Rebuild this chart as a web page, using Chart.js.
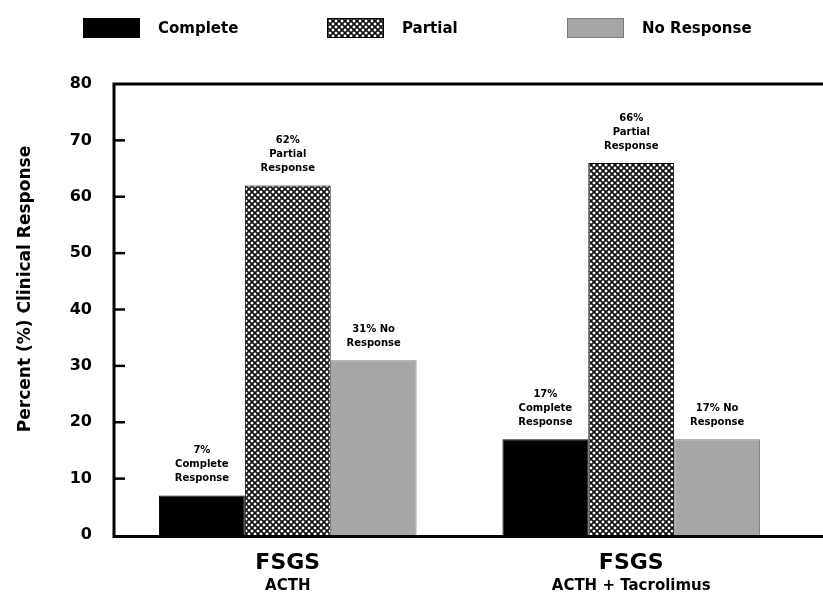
<!DOCTYPE html>
<html>
<head>
<meta charset="utf-8">
<script src="https://cdn.jsdelivr.net/npm/chart.js@4.4.1/dist/chart.umd.min.js"></script>
<style>
  html, body { margin: 0; padding: 0; background: #fff; }
</style>
</head>
<body>
<canvas id="chart" width="823" height="596"></canvas>
<script>
// Data
const groups = ['FSGS', 'FSGS'];
const groupSubLabels = ['ACTH', 'ACTH + Tacrolimus'];
const seriesNames = ['Complete', 'Partial', 'No Response'];
const completeValues = [7, 17];
const partialValues = [62, 66];
const noResponseValues = [31, 17];
const completeNotes = [['7%', 'Complete', 'Response'], ['17%', 'Complete', 'Response']];
const partialNotes = [['62%', 'Partial', 'Response'], ['66%', 'Partial', 'Response']];
const noResponseNotes = [['31% No', 'Response'], ['17% No', 'Response']];
const yTitle = 'Percent (%) Clinical Response';
const yMin = 0, yMax = 80, yStep = 10;

const FONT = "'DejaVu Sans', sans-serif";
const canvas = document.getElementById('chart');
const ctx = canvas.getContext('2d');

// crosshatch fill used for the "Partial" bars
function makeHatch() {
    const tile = document.createElement('canvas');
    tile.width = 6;
    tile.height = 6;
    const g = tile.getContext('2d');
    g.fillStyle = '#ffffff';
    g.fillRect(0, 0, 6, 6);
    g.strokeStyle = '#111111';
    g.lineWidth = 1.7;
    g.beginPath();
    g.moveTo(0, 0); g.lineTo(6, 6);
    g.moveTo(6, 0); g.lineTo(0, 6);
    g.stroke();
    return ctx.createPattern(tile, 'repeat');
}
const hatch = makeHatch();

// axis frame (left, top, bottom) with inward tick marks
const framePlugin = {
    id: 'frame',
    afterDraw(chart) {
        const { ctx, chartArea } = chart;
        const y = chart.scales.y;
        const L = chartArea.left - 2;
        ctx.save();
        ctx.strokeStyle = '#000';
        ctx.lineWidth = 3;
        ctx.beginPath();
        ctx.moveTo(chart.width, chartArea.top);
        ctx.lineTo(L, chartArea.top);
        ctx.lineTo(L, chartArea.bottom + 1.5);
        ctx.lineTo(chart.width, chartArea.bottom + 1.5);
        ctx.stroke();
        ctx.lineWidth = 2.5;
        y.ticks.forEach(t => {
            if (t.value === yMin || t.value === yMax) return;
            const py = y.getPixelForValue(t.value);
            ctx.beginPath();
            ctx.moveTo(L, py);
            ctx.lineTo(L + 11, py);
            ctx.stroke();
        });
        // y axis title
        ctx.fillStyle = '#000';
        ctx.font = 'bold 17px ' + FONT;
        ctx.textAlign = 'center';
        ctx.textBaseline = 'middle';
        ctx.translate(26, 289);
        ctx.rotate(-Math.PI / 2);
        ctx.fillText(yTitle, 0, 0);
        ctx.restore();
    }
};

// notes above each bar
const notesPlugin = {
    id: 'notes',
    afterDatasetsDraw(chart) {
        const { ctx } = chart;
        ctx.save();
        ctx.fillStyle = '#000';
        ctx.font = 'bold 10px ' + FONT;
        ctx.textAlign = 'center';
        ctx.textBaseline = 'middle';
        chart.data.datasets.forEach((ds, i) => {
            chart.getDatasetMeta(i).data.forEach((bar, j) => {
                const lines = ds.notes[j];
                lines.forEach((line, k) => {
                    const offset = (lines.length - 1 - k) * 14;
                    ctx.fillText(line, bar.x, bar.y - 17 - offset);
                });
            });
        });
        ctx.restore();
    }
};

// legend across the top
const legendPlugin = {
    id: 'topLegend',
    afterDraw(chart) {
        const { ctx } = chart;
        const boxX = [83, 327, 567];
        ctx.save();
        ctx.font = 'bold 15px ' + FONT;
        ctx.textBaseline = 'middle';
        ctx.textAlign = 'left';
        chart.data.datasets.forEach((ds, i) => {
            ctx.fillStyle = ds.backgroundColor;
            ctx.fillRect(boxX[i], 18, 57, 20);
            ctx.strokeStyle = ds.borderColor;
            ctx.lineWidth = 1;
            ctx.strokeRect(boxX[i] + 0.5, 18.5, 56, 19);
            ctx.fillStyle = '#000';
            ctx.fillText(ds.label, boxX[i] + 75, 29);
        });
        ctx.restore();
    }
};

new Chart(ctx, {
    type: 'bar',
    data: {
        labels: groups,
        datasets: [
            {
                label: seriesNames[0],
                data: completeValues,
                notes: completeNotes,
                backgroundColor: '#000000',
                borderColor: '#000000',
                borderWidth: 1
            },
            {
                label: seriesNames[1],
                data: partialValues,
                notes: partialNotes,
                backgroundColor: hatch,
                borderColor: '#000000',
                borderWidth: 1
            },
            {
                label: seriesNames[2],
                data: noResponseValues,
                notes: noResponseNotes,
                backgroundColor: '#a6a6a6',
                borderColor: '#7a7a7a',
                borderWidth: 1
            }
        ]
    },
    options: {
        responsive: false,
        animation: false,
        categoryPercentage: 0.75,
        barPercentage: 1.0,
        layout: { padding: { top: 84, right: 20, left: 0, bottom: 0 } },
        plugins: {
            legend: { display: false },
            tooltip: { enabled: false }
        },
        scales: {
            y: {
                min: yMin,
                max: yMax,
                afterFit(scale) { scale.width = 116; },
                ticks: {
                    stepSize: yStep,
                    color: '#000',
                    padding: 24,
                    font: { family: FONT, size: 16, weight: 'bold' }
                },
                grid: { display: false, drawTicks: false },
                border: { display: false }
            },
            x: {
                weight: 0,
                afterFit(scale) { scale.height = 41; },
                ticks: {
                    color: '#000',
                    padding: 15,
                    maxRotation: 0,
                    font: { family: FONT, size: 22, weight: 'bold' }
                },
                grid: { display: false, drawTicks: false },
                border: { display: false }
            },
            x2: {
                type: 'category',
                position: 'bottom',
                weight: 1,
                labels: groupSubLabels,
                afterFit(scale) { scale.height = 20; },
                ticks: {
                    color: '#000',
                    padding: 1,
                    maxRotation: 0,
                    font: { family: FONT, size: 15, weight: 'bold' }
                },
                grid: { display: false, drawTicks: false },
                border: { display: false }
            }
        }
    },
    plugins: [framePlugin, notesPlugin, legendPlugin]
});
</script>
</body>
</html>
